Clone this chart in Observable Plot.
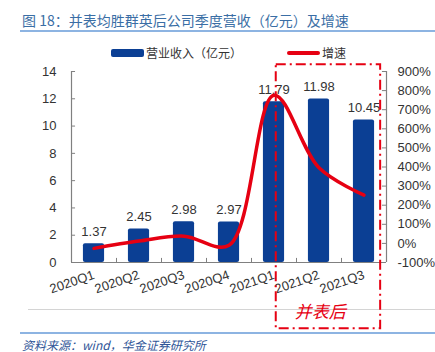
<!DOCTYPE html>
<html><head><meta charset="utf-8">
<script src="https://cdn.jsdelivr.net/npm/d3@7"></script>
<script src="https://cdn.jsdelivr.net/npm/@observablehq/plot@0.6"></script>
<style>
body{margin:0;background:#fff;font-family:"Liberation Sans",Arial,"Noto Sans CJK SC",sans-serif;}
#wrap{position:relative;width:435px;height:352px;overflow:hidden;background:#fff;}
#title{position:absolute;left:22px;top:10px;font-size:14px;color:#3a6ea5;font-family:"Noto Sans CJK SC",sans-serif;white-space:nowrap;line-height:20px;}
#tline{position:absolute;left:20px;top:30px;width:415px;height:2px;background:#8db4e2;}
#gline{position:absolute;left:28px;top:309px;width:407px;height:1px;background:#d4d4d4;}
#bline{position:absolute;left:20px;top:332px;width:415px;height:2px;background:#8db4e2;}
#source{position:absolute;left:22px;top:337px;font-size:12px;font-style:italic;color:#2f5597;font-family:"Noto Sans CJK SC",sans-serif;white-space:nowrap;line-height:16px;}
.leg{position:absolute;font-size:12px;color:#333;font-family:"Noto Sans CJK SC",sans-serif;line-height:16px;top:45px;white-space:nowrap;}
.sw{position:absolute;}
#chart{position:absolute;left:0;top:40px;}
</style></head><body>
<div id="wrap">
  <div id="title">图 18：并表均胜群英后公司季度营收（亿元）及增速</div>
  <div id="tline"></div>
  <div class="sw" style="left:111px;top:49px;width:33px;height:8px;background:#0b3f94;border-radius:2px;"></div>
  <div class="leg" style="left:146px;">营业收入（亿元）</div>
  <div class="sw" style="left:287px;top:51px;width:33px;height:4px;background:#e60012;border-radius:2px;"></div>
  <div class="leg" style="left:322px;">增速</div>
  <div id="gline"></div>
  <div id="chart"></div>
  <div id="bline"></div>
  <div id="source">资料来源：wind，华金证券研究所</div>
</div>
<script>
const quarters = ["2020Q1","2020Q2","2020Q3","2020Q4","2021Q1","2021Q2","2021Q3"];
const revenue = [1.37,2.45,2.98,2.97,11.79,11.98,10.45];
const growth = [-26,12,38,-10,776,396,253];
const revTicks = [0,2,4,6,8,10,12,14];
const pctTicks = [-100,0,100,200,300,400,500,600,700,800,900];
const boxNote = [{x1:4.05,x2:6.37,y1:-4.86,y2:14.5}];
const noteText = [{x:5.03,y:-3.7,t:"并表后"}];

const red = "#e60012", blue = "#0b3f94", axisC = "#808080";
const toRev = p => (p + 100) * 14 / 1000;
const data = quarters.map((q,i)=>({i,q,rev:revenue[i],g:growth[i]}));
const bounds = d3.range(1,7).map(k=>k-0.5);

const chart = Plot.plot({
  width:435, height:292,
  marginTop:31, marginBottom:70, marginLeft:71, marginRight:49,
  style:{fontFamily:"'Liberation Sans', Arial, sans-serif", fontSize:"12px", color:"#333", background:"transparent", overflow:"visible"},
  x:{domain:[-0.5,6.5], axis:null},
  y:{domain:[0,14], axis:null},
  marks:[
    Plot.rectY(data,{x1:d=>d.i-0.235,x2:d=>d.i+0.235,y:"rev",fill:blue,rx:2}),
    Plot.ruleX([-0.5,6.5],{stroke:axisC,strokeWidth:1.2}),
    Plot.ruleY([0],{stroke:axisC,strokeWidth:1.2}),
    Plot.ruleY(revTicks,{x1:-0.5,x2:-0.5+0.09,stroke:axisC}),
    Plot.ruleY(pctTicks.map(toRev),{x1:6.5-0.09,x2:6.5,stroke:axisC}),
    Plot.ruleX(bounds,{y1:0,y2:0.3,stroke:axisC}),
    Plot.axisY(revTicks,{anchor:"left",tickSize:0,tickPadding:15,fontSize:13,fill:"#333"}),
    Plot.axisY(pctTicks.map(toRev),{anchor:"right",tickSize:0,tickPadding:11,fontSize:13,fill:"#333",
      tickFormat:v=>Math.round(v*1000/14-100)+"%"}),
    Plot.axisX(d3.range(7),{anchor:"bottom",tickSize:0,tickPadding:12,tickRotate:-19,fontSize:13,fill:"#333",
      tickFormat:i=>quarters[i]}),
    Plot.text(data,{x:"i",y:"rev",text:d=>d.rev.toFixed(2),lineAnchor:"bottom",dy:-8,fontSize:13,fill:"#333"}),
    Plot.line(data,{x:"i",y:d=>toRev(d.g),stroke:red,strokeWidth:3.5,curve:"catmull-rom",strokeLinecap:"round"}),
    Plot.rect(boxNote,{x1:"x1",x2:"x2",y1:"y1",y2:"y2",fill:"none",stroke:red,strokeWidth:2,strokeDasharray:"10,4,2,4"}),
    Plot.text(noteText,{x:"x",y:"y",text:"t",fill:red,fontSize:17,fontStyle:"italic",fontFamily:"'Noto Sans CJK SC', sans-serif"})
  ]
});
document.getElementById("chart").appendChild(chart);
</script>
</body></html>
